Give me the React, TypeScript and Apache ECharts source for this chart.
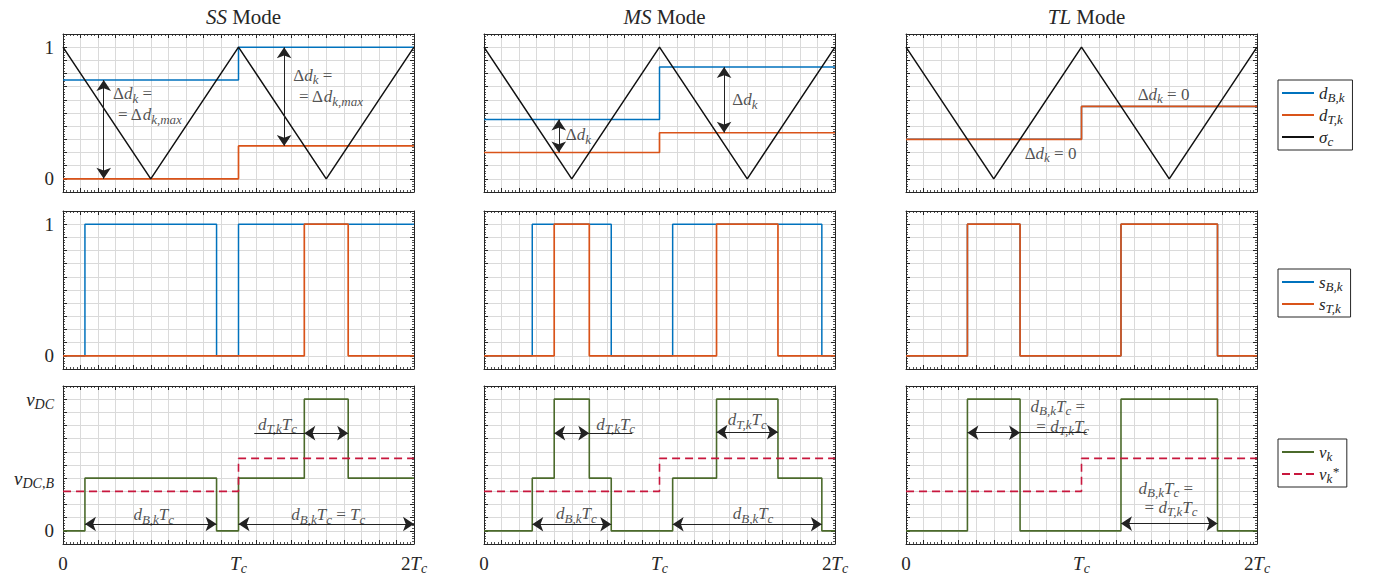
import React, { useEffect, useRef } from 'react';
import * as echarts from 'echarts';

const FONT = 'Liberation Serif, DejaVu Serif, serif';
const INK = '#262626';
const BLUE = '#0072BD';
const ORANGE = '#D95319';
const GREEN = '#4B6A2B';
const RED = '#C8173D';
const CARRIER = '#111111';

// ---------- layout ----------
const colLeft = [63, 484, 906];
const rowTop = [34, 211, 386];
const plotW = 351;
const plotH = 158;

// ---------- texts ----------
const modeNames = ['SS', 'MS', 'TL'];
const xTickValues = [0, 1, 2];
const xTickLabels = ['{r|0}', '{i|T}{s|c}', '{r|2}{i|T}{s|c}'];
const yTickValuesDuty = [0, 1];
const yTickLabelsDuty = ['{r|0}', '{r|1}'];
const yTickValuesVolt = [0, 0.4, 1];
const yTickLabelsVolt = ['{r|0}', '{i|v}{s|DC,B}', '{i|v}{s|DC}'];

// ---------- data ----------
// carrier (triangle)
const carrierT = [0, 0.5, 1, 1.5, 2];
const carrierV = [1, 0, 1, 0, 1];

// modulating signals per control period (edges 0, 1, 2)
const periodT = [0, 1, 2];
const dB_SS = [0.75, 1.0];
const dT_SS = [0.0, 0.25];
const dB_MS = [0.45, 0.85];
const dT_MS = [0.2, 0.35];
const dB_TL = [0.3, 0.55];
const dT_TL = [0.3, 0.55];

// switching signals: edge times and levels held between them
const sB_SS_t = [0, 0.125, 0.875, 1, 2];
const sB_SS_v = [0, 1, 0, 1];
const sT_SS_t = [0, 1.375, 1.625, 2];
const sT_SS_v = [0, 1, 0];
const sB_MS_t = [0, 0.275, 0.725, 1.075, 1.925, 2];
const sB_MS_v = [0, 1, 0, 1, 0];
const sT_MS_t = [0, 0.4, 0.6, 1.325, 1.675, 2];
const sT_MS_v = [0, 1, 0, 1, 0];
const sB_TL_t = [0, 0.35, 0.65, 1.225, 1.775, 2];
const sB_TL_v = [0, 1, 0, 1, 0];
const sT_TL_t = [0, 0.35, 0.65, 1.225, 1.775, 2];
const sT_TL_v = [0, 1, 0, 1, 0];

// output voltage
const vk_SS_t = [0, 0.125, 0.875, 1, 1.375, 1.625, 2];
const vk_SS_v = [0, 0.4, 0, 0.4, 1, 0.4];
const vk_MS_t = [0, 0.275, 0.4, 0.6, 0.725, 1.075, 1.325, 1.675, 1.925, 2];
const vk_MS_v = [0, 0.4, 1, 0.4, 0, 0.4, 1, 0.4, 0];
const vk_TL_t = [0, 0.35, 0.65, 1.225, 1.775, 2];
const vk_TL_v = [0, 1, 0, 1, 0];
const vRef_SS = [0.3, 0.55];
const vRef_MS = [0.3, 0.55];
const vRef_TL = [0.3, 0.55];

// arrows [x1, y1, x2, y2]
const arrowsDuty = [
  [[0.232, 0.75, 0.232, 0], [1.26, 1, 1.26, 0.25]],
  [[0.426, 0.45, 0.426, 0.2], [1.368, 0.85, 1.368, 0.35]],
  [],
];
const arrowsVolt = [
  [[0.125, 0.052, 0.875, 0.052], [1, 0.052, 2, 0.052], [1.375, 0.742, 1.625, 0.742]],
  [[0.275, 0.05, 0.725, 0.05], [1.075, 0.05, 1.925, 0.05], [0.4, 0.742, 0.6, 0.742], [1.325, 0.75, 1.675, 0.75]],
  [[0.35, 0.745, 0.65, 0.745], [1.225, 0.055, 1.775, 0.055]],
];
const leadersVolt = [
  [[1.09, 0.742, 1.375, 0.742]],
  [[0.6, 0.742, 0.845, 0.742]],
  [[0.65, 0.745, 1.03, 0.745]],
];

// annotations [x, y, text, align]
const notesDuty: any[][] = [
  [
    [0.285, 0.645, '{r|Δ}{i|d}{s|k}{r| =}', 'left'],
    [0.313, 0.485, '{r|= Δ}{i|d}{s|k,max}', 'left'],
    [1.312, 0.785, '{r|Δ}{i|d}{s|k}{r| =}', 'left'],
    [1.345, 0.624, '{r|= Δ}{i|d}{s|k,max}', 'left'],
  ],
  [
    [0.466, 0.335, '{r|Δ}{i|d}{s|k}', 'left'],
    [1.415, 0.6, '{r|Δ}{i|d}{s|k}', 'left'],
  ],
  [
    [1.32, 0.644, '{r|Δ}{i|d}{s|k}{r| = 0}', 'left'],
    [0.676, 0.195, '{r|Δ}{i|d}{s|k}{r| = 0}', 'left'],
  ],
];
const notesVolt: any[][] = [
  [
    [0.517, 0.121, '{i|d}{s|B,k}{i|T}{s|c}', 'center'],
    [1.512, 0.121, '{i|d}{s|B,k}{i|T}{s|c}{r| = }{i|T}{s|c}', 'center'],
    [1.222, 0.81, '{i|d}{s|T,k}{i|T}{s|c}', 'center'],
  ],
  [
    [0.75, 0.81, '{i|d}{s|T,k}{i|T}{s|c}', 'center'],
    [1.5, 0.843, '{i|d}{s|T,k}{i|T}{s|c}', 'center'],
    [0.526, 0.129, '{i|d}{s|B,k}{i|T}{s|c}', 'center'],
    [1.533, 0.129, '{i|d}{s|B,k}{i|T}{s|c}', 'center'],
  ],
  [
    [0.865, 0.948, '{i|d}{s|B,k}{i|T}{s|c}{r| =}', 'center'],
    [0.893, 0.796, '{r|= }{i|d}{s|T,k}{i|T}{s|c}', 'center'],
    [1.48, 0.322, '{i|d}{s|B,k}{i|T}{s|c}{r| =}', 'center'],
    [1.51, 0.178, '{r|= }{i|d}{s|T,k}{i|T}{s|c}', 'center'],
  ],
];

const legendLabels: Record<string, string> = {
  dB: '{i|d}{s|B,k}',
  dT: '{i|d}{s|T,k}',
  sig: '{i|σ}{s|c}',
  sB: '{i|s}{s|B,k}',
  sT: '{i|s}{s|T,k}',
  vk: '{i|v}{s|k}',
  vref: '{i|v}{s|k}{p|*}',
};
const SOLID_ICON = 'rect';
const DASH_ICON = 'path://M0,0h8v2h-8z M12,0h8v2h-8z M24,0h8v2h-8z';

// ---------- helpers ----------
function steps(t: number[], v: number[]) {
  const pts: number[][] = [];
  for (let i = 0; i < v.length; i++) {
    pts.push([t[i], v[i]]);
    pts.push([t[i + 1], v[i]]);
  }
  return pts;
}
function zip(t: number[], v: number[]) {
  return t.map((x, i) => [x, v[i]]);
}
function rich(size: number) {
  const sub = Math.round(size * 0.74);
  const shift = Math.round(size * 0.5);
  return {
    r: { fontFamily: FONT, fontSize: size, lineHeight: size + 1, color: INK },
    i: { fontFamily: FONT, fontSize: size, fontStyle: 'italic', lineHeight: size + 1, color: INK },
    s: { fontFamily: FONT, fontSize: sub, fontStyle: 'italic', lineHeight: sub, padding: [shift, 0, 0, 0], color: INK },
    p: { fontFamily: FONT, fontSize: sub, fontStyle: 'italic', lineHeight: sub, padding: [0, 0, Math.round(shift * 0.6), 0], color: INK },
  };
}
const near = (a: number, b: number) => Math.abs(a - b) < 1e-6;

function buildOption() {
  const grid: any[] = [];
  const xAxis: any[] = [];
  const yAxis: any[] = [];
  const series: any[] = [];

  const lineCommon = {
    show: true,
    onZero: false,
    lineStyle: { color: INK, width: 1 },
  };
  const tickCommon = { show: true, inside: true, length: 4, lineStyle: { color: INK, width: 1 } };
  const minorCommon = { show: true, splitNumber: 5, length: 2, lineStyle: { color: INK, width: 0.8 } };
  const splitCommon = { show: true, lineStyle: { color: '#dadada', width: 1 } };

  const dBs = [dB_SS, dB_MS, dB_TL];
  const dTs = [dT_SS, dT_MS, dT_TL];
  const sBs = [[sB_SS_t, sB_SS_v], [sB_MS_t, sB_MS_v], [sB_TL_t, sB_TL_v]];
  const sTs = [[sT_SS_t, sT_SS_v], [sT_MS_t, sT_MS_v], [sT_TL_t, sT_TL_v]];
  const vks = [[vk_SS_t, vk_SS_v], [vk_MS_t, vk_MS_v], [vk_TL_t, vk_TL_v]];
  const vrefs = [vRef_SS, vRef_MS, vRef_TL];

  for (let r = 0; r < 3; r++) {
    for (let c = 0; c < 3; c++) {
      const g = r * 3 + c;
      grid.push({ left: colLeft[c], top: rowTop[r], width: plotW, height: plotH, containLabel: false });
      const showX = r === 2;
      xAxis.push({
        type: 'value', gridIndex: g, position: 'bottom', min: 0, max: 2, interval: 0.1,
        axisLine: lineCommon, axisTick: tickCommon, minorTick: minorCommon, splitLine: splitCommon,
        axisLabel: {
          show: showX, margin: 9, rich: rich(19),
          formatter: (v: number) => {
            for (let k = 0; k < xTickValues.length; k++) if (near(v, xTickValues[k])) return xTickLabels[k];
            return '';
          },
        },
      });
      xAxis.push({
        type: 'value', gridIndex: g, position: 'top', min: 0, max: 2, interval: 0.1,
        axisLine: lineCommon, axisTick: tickCommon, minorTick: minorCommon,
        splitLine: { show: false }, axisLabel: { show: false },
      });
      const tv = r === 2 ? yTickValuesVolt : yTickValuesDuty;
      const tl = r === 2 ? yTickLabelsVolt : yTickLabelsDuty;
      yAxis.push({
        type: 'value', gridIndex: g, position: 'left', min: -0.1, max: 1.1, interval: 0.1,
        axisLine: lineCommon, axisTick: tickCommon, minorTick: minorCommon, splitLine: splitCommon,
        axisLabel: {
          show: c === 0, margin: 9, rich: rich(19),
          formatter: (v: number) => {
            for (let k = 0; k < tv.length; k++) if (near(v, tv[k])) return tl[k];
            return '';
          },
        },
      });
      yAxis.push({
        type: 'value', gridIndex: g, position: 'right', min: -0.1, max: 1.1, interval: 0.1,
        axisLine: lineCommon, axisTick: tickCommon, minorTick: minorCommon,
        splitLine: { show: false }, axisLabel: { show: false },
      });
    }
  }

  const addLine = (g: number, name: string, data: number[][], color: string, width: number, dashed = false) => {
    series.push({
      type: 'line', name, data, xAxisIndex: 2 * g, yAxisIndex: 2 * g,
      symbol: 'none', showSymbol: false, silent: true, animation: false, z: 3,
      lineStyle: { color, width, type: dashed ? [8, 5] : 'solid' },
      itemStyle: { color },
    });
  };
  const addArrows = (g: number, list: number[][], withHeads: boolean) => {
    if (!list.length) return;
    series.push({
      type: 'lines', coordinateSystem: 'cartesian2d', xAxisIndex: 2 * g, yAxisIndex: 2 * g,
      symbol: withHeads ? ['arrow', 'arrow'] : ['none', 'none'], symbolSize: 11,
      silent: true, z: 4,
      lineStyle: { color: '#222222', width: 1, opacity: 1, curveness: 0 },
      data: list.map((a) => ({ coords: [[a[0], a[1]], [a[2], a[3]]] })),
    });
  };
  const addNotes = (g: number, list: any[][]) => {
    if (!list.length) return;
    series.push({
      type: 'scatter', xAxisIndex: 2 * g, yAxisIndex: 2 * g, symbol: 'circle', symbolSize: 1,
      silent: true, z: 5, itemStyle: { color: 'rgba(0,0,0,0)' },
      data: list.map((n) => ({
        value: [n[0], n[1]],
        label: {
          show: true, position: 'inside', align: n[3], verticalAlign: 'middle',
          formatter: n[2], rich: rich(17),
        },
      })),
    });
  };

  for (let c = 0; c < 3; c++) {
    const g0 = c, g1 = 3 + c, g2 = 6 + c;
    addLine(g0, 'dB', steps(periodT, dBs[c]), BLUE, 1.5);
    addLine(g0, 'dT', steps(periodT, dTs[c]), ORANGE, 1.7);
    addLine(g0, 'sig', zip(carrierT, carrierV), CARRIER, 1.5);
    addArrows(g0, arrowsDuty[c], true);
    addNotes(g0, notesDuty[c]);

    addLine(g1, 'sB', steps(sBs[c][0], sBs[c][1]), BLUE, 1.5);
    addLine(g1, 'sT', steps(sTs[c][0], sTs[c][1]), ORANGE, 1.7);

    addLine(g2, 'vk', steps(vks[c][0], vks[c][1]), GREEN, 1.6);
    addLine(g2, 'vref', steps(periodT, vrefs[c]), RED, 1.6, true);
    addArrows(g2, arrowsVolt[c], true);
    addArrows(g2, leadersVolt[c], false);
    addNotes(g2, notesVolt[c]);
  }

  const legendBase = {
    orient: 'vertical', left: 1278, itemWidth: 32, itemHeight: 2, itemGap: 0,
    borderColor: INK, borderWidth: 1, padding: [2, 8, 2, 4], backgroundColor: '#ffffff',
    selectedMode: false,
    formatter: (n: string) => legendLabels[n],
    textStyle: { fontFamily: FONT, fontSize: 17, color: INK, rich: rich(17) },
  };

  const title = modeNames.map((m, c) => ({
    text: `{i|${m}}{r| Mode}`,
    left: colLeft[c] + plotW / 2,
    top: 1,
    textAlign: 'center',
    textStyle: { rich: rich(21), fontFamily: FONT, fontSize: 21, fontWeight: 'normal', color: INK },
  }));

  return {
    animation: false,
    backgroundColor: '#ffffff',
    title,
    grid,
    xAxis,
    yAxis,
    legend: [
      {
        ...legendBase, top: 80,
        data: [{ name: 'dB', icon: SOLID_ICON }, { name: 'dT', icon: SOLID_ICON }, { name: 'sig', icon: SOLID_ICON }],
      },
      { ...legendBase, top: 269, data: [{ name: 'sB', icon: SOLID_ICON }, { name: 'sT', icon: SOLID_ICON }] },
      { ...legendBase, top: 439, data: [{ name: 'vk', icon: SOLID_ICON }, { name: 'vref', icon: DASH_ICON }] },
    ],
    series,
  };
}

export default function App() {
  const ref = useRef<HTMLDivElement>(null);
  useEffect(() => {
    if (!ref.current) return;
    const chart = echarts.init(ref.current, undefined, { renderer: 'svg' });
    chart.setOption(buildOption() as any);
    return () => chart.dispose();
  }, []);
  return (
    <div
      ref={ref}
      style={{ position: 'fixed', left: 0, top: 0, width: 1373, height: 580, background: '#fff' }}
    />
  );
}
